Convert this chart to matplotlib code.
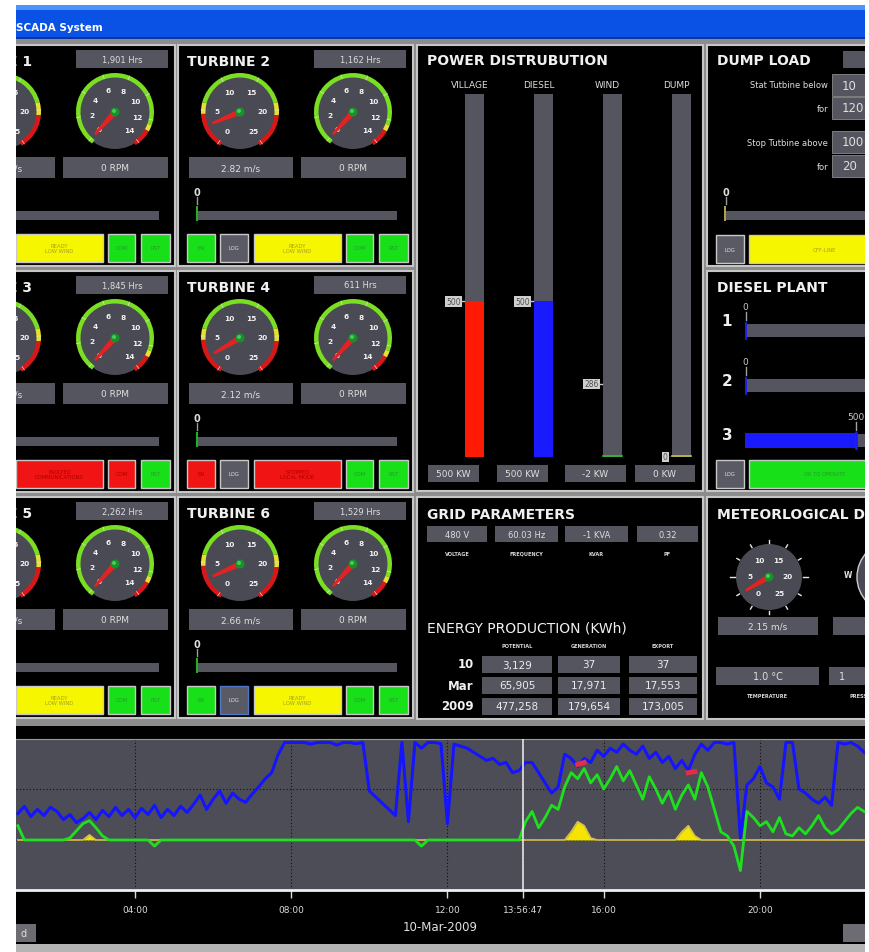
import matplotlib
matplotlib.use('Agg')
import matplotlib.pyplot as plt
from matplotlib.patches import Rectangle, Circle, Wedge, Polygon
import numpy as np
import pandas as pd

W, H = 870, 953

# ---------------- data ----------------
turbine_names = ['TURBINE 1', 'TURBINE 2', 'TURBINE 3', 'TURBINE 4', 'TURBINE 5', 'TURBINE 6']
turbine_hours = ['1,901 Hrs', '1,162 Hrs', '1,845 Hrs', '611 Hrs', '2,262 Hrs', '1,529 Hrs']
turbine_wind = [2.41, 2.82, 2.37, 2.12, 2.55, 2.66]   # m/s
turbine_rpm = [0, 0, 0, 0, 0, 0]
turbine_kw = [0, 0, 0, 0, 0, 0]
turbine_status = ['READY\nLOW WIND', 'READY\nLOW WIND', 'FAULTED\nCOMMUNICATIONS',
                  'STOPPED\nLOCAL MODE', 'READY\nLOW WIND', 'READY\nLOW WIND']
turbine_fault = [False, False, True, True, False, False]
turbine_en = [True, True, True, False, True, True]
turbine_com = [True, True, False, True, True, True]

pd_labels = ['VILLAGE', 'DIESEL', 'WIND', 'DUMP']
pd_kw = [500, 500, -2, 0]
pd_mark = [500, 500, 286, 0]
pd_full = [1165, 1165, 1420, 1165]

dump_rows = ['Stat Tutbine below', 'for', 'Stop Tutbine above', 'for']
dump_vals = ['10', '120', '100', '20']
dump_kw = 0

diesel_units = ['1', '2', '3']
diesel_kw = [0, 0, 500]

grid_labels = ['VOLTAGE', 'FREQUENCY', 'KVAR', 'PF']
grid_vals = ['480 V', '60.03 Hz', '-1 KVA', '0.32']

energy_rows = ['10', 'Mar', '2009']
energy_cols = ['POTENTIAL', 'GENERATION', 'EXPORT']
energy_potential = [3129, 65905, 477258]
energy_generation = [37, 17971, 179654]
energy_export = [37, 17553, 173005]

met_wind = 2.15
met_temp = '1.0 °C'

# trend, 10 minute samples from 01:00 to 22:40 (kW), one row per hour
trend_blue = [
    130, 165, 115, 150, 120, 160,   # 01
    140, 100, 125, 85, 105, 135,    # 02
    100, 145, 115, 160, 120, 150,   # 03
    110, 155, 125, 170, 110, 150,   # 04
    120, 165, 135, 175, 220, 150,   # 05
    200, 240, 180, 230, 200, 185,   # 06
    225, 260, 300, 330, 420, 478,   # 07
    478, 478, 478, 470, 478, 478,   # 08
    478, 465, 478, 478, 472, 478,   # 09
    240, 210, 180, 150, 120, 478,   # 10
    90, 478, 450, 478, 478, 472,    # 11
    80, 470, 460, 450, 430, 410,    # 12
    390, 400, 370, 380, 330, 340,   # 13
    380, 380, 330, 280, 230, 260,   # 14
    420, 400, 360, 400, 380, 440,   # 15
    410, 450, 430, 470, 440, 420,   # 16
    460, 400, 430, 380, 410, 350,   # 17
    390, 340, 420, 470, 440, 478,   # 18
    478, 470, 478, 10, 270, 300,    # 19
    360, 280, 260, 200, 478, 478,   # 20
    250, 230, 200, 180, 210, 170,   # 21
    478, 470, 478, 460, 430]        # 22
trend_green = [
    70, 0, 0, 0, 0, 0,
    0, 0, 10, 45, 80, 95,
    60, 20, 0, 0, 0, 0,
    0, 0, 0, -30, 0, 0,
    0, 0, 0, 0, 0, 0,
    0, 0, 0, 0, 0, 0,
    0, 0, 0, 0, 0, 0,
    0, 0, 0, 0, 0, 0,
    0, 0, 0, 0, 0, 0,
    0, 0, 0, 0, 0, 0,
    0, 0, -30, 0, 0, 0,
    0, 0, 0, 0, 0, 0,
    0, 0, 0, 0, 0, 0,
    90, 140, 60, 110, 170, 150,
    260, 330, 300, 350, 280, 320,
    250, 300, 360, 290, 340, 270,
    200, 310, 250, 180, 240, 150,
    220, 270, 200, 330, 260, 150,
    40, 20, -30, -150, 140, 110,
    70, 90, 40, 110, 30, 20,
    60, 30, 70, 120, 60, 30,
    50, 90, 130, 160, 140]
trend_yellow = [
    0, 0, 0, 0, 0, 0,
    0, 0, 0, 0, 0, 25,
    0, 0, 0, 0, 0, 0,
    0, 0, 0, 0, 0, 0,
    0, 0, 0, 0, 0, 0,
    0, 0, 0, 0, 0, 0,
    0, 0, 0, 0, 0, 0,
    0, 0, 0, 0, 0, 0,
    0, 0, 0, 0, 0, 0,
    0, 0, 0, 0, 0, 0,
    0, 0, 0, 0, 0, 0,
    0, 0, 0, 0, 0, 0,
    0, 0, 0, 0, 0, 0,
    0, 0, 0, 0, 0, 0,
    0, 40, 90, 70, 10, 0,
    0, 0, 0, 0, 0, 0,
    0, 0, 0, 0, 0, 0,
    40, 70, 20, 0, 0, 0,
    0, 0, 0, 0, 0, 0,
    0, 0, 0, 0, 0, 0,
    0, 0, 0, 0, 0, 0,
    0, 0, 0, 0, 0]
trend_red = [np.nan] * len(trend_blue)
trend_red[86], trend_red[87] = 370, 380      # 15:20, 15:30
trend_red[103], trend_red[104] = 330, 335    # 18:10, 18:20
now = pd.Timestamp('2009-03-10 13:56:47')

# ---------------- colours ----------------
BOX = '#55555f'
TXT = '#dedede'
GREEN = '#18e018'
RED = '#f01414'
YELLOW = '#f6f600'
DIAL = '#4a4a54'

fig = plt.figure(figsize=(W / 100, H / 100), dpi=100)
ax = fig.add_axes([0, 0, 1, 1])
ax.set_xlim(0, W)
ax.set_ylim(0, H)
ax.axis('off')


def rect(x, y, w, h, fc, ec='none', lw=0, z=1):
    ax.add_patch(Rectangle((x, H - y - h), w, h, facecolor=fc, edgecolor=ec, linewidth=lw, zorder=z))


def txt(x, y, s, size=7, color=TXT, ha='left', weight='normal', z=6, **kw):
    ax.text(x, H - y, s, fontsize=size, color=color, ha=ha, va='center', fontweight=weight,
            zorder=z, **kw)


def box(x, y, w, h, s, size=6.5, fc=BOX, color=TXT):
    rect(x, y, w, h, fc, z=2)
    txt(x + w / 2, y + h / 2, s, size, color, ha='center')


def button(x, y, w, h, s, fc, ec='#c8c8c8', color='#2a9a2a', size=3.8):
    rect(x, y, w, h, fc, ec=ec, lw=1.0, z=2)
    txt(x + w / 2, y + h / 2, s, size, color, ha='center', linespacing=1.1)


def panel(x, y, w, h):
    rect(x, y, w, h, 'black', ec='#c6c6c6', lw=1.5, z=1)


def sub_axes(x, y, w, h):
    a = fig.add_axes([x / W, 1 - (y + h) / H, w / W, h / H])
    a.set_facecolor('none')
    return a


WIND = dict(a0=235, step=11.6, labels=[0, 5, 10, 15, 20, 25],
            segs=[(-0.4, 4.5, '#d81818'), (4.5, 6.0, '#e6e030'), (6.0, 19.0, '#7ade22'),
                  (19.0, 20.7, '#e6e030'), (20.7, 25.4, '#d81818')])
RPM = dict(a0=228, step=20, labels=[0, 2, 4, 6, 8, 10, 12, 14],
           segs=[(-0.3, 12.4, '#7ade22'), (12.4, 12.9, '#e6e030'), (12.9, 14.3, '#d81818')])


def gauge(cx, cy, value, sc, r=37, ring=True, lab_r=23, nl=30):
    Y = H - cy
    ax.add_patch(Circle((cx, Y), r, fc=DIAL, ec='none', zorder=2))
    ang = lambda v: sc['a0'] - v * sc['step']
    if ring:
        for v0, v1, col in sc['segs']:
            ax.add_patch(Wedge((cx, Y), r + 2, ang(v1), ang(v0), width=4.5, fc=col, ec='none', zorder=3))
        for lab in sc['labels']:
            a = np.radians(ang(lab))
            ax.plot([cx + (r - 2) * np.cos(a), cx + (r + 2) * np.cos(a)],
                    [Y + (r - 2) * np.sin(a), Y + (r + 2) * np.sin(a)], color='#e0e0e0', lw=0.5, zorder=3)
    else:
        for a_deg in range(0, 360, 30):
            a = np.radians(a_deg)
            ln = 5 if a_deg in (0, 180) else 3
            ax.plot([cx + (r + 1) * np.cos(a), cx + (r + 1 + ln) * np.cos(a)],
                    [Y + (r + 1) * np.sin(a), Y + (r + 1 + ln) * np.sin(a)], color='#e8e8e8', lw=1, zorder=3)
    for lab in sc['labels']:
        a = np.radians(ang(lab))
        ax.text(cx + lab_r * np.cos(a), Y + lab_r * np.sin(a), str(lab), fontsize=5.3, color='#f2f2f2',
                ha='center', va='center', fontweight='bold', zorder=4)
    a = np.radians(ang(value))
    ux, uy = np.cos(a), np.sin(a)
    px, py = -uy, ux
    pts = [(cx + nl * ux + 1.3 * px, Y + nl * uy + 1.3 * py), (cx + nl * ux - 1.3 * px, Y + nl * uy - 1.3 * py),
           (cx - 3 * px, Y - 3 * py), (cx + 3 * px, Y + 3 * py)]
    ax.add_patch(Polygon(pts, closed=True, fc='#e42222', ec='none', zorder=5))
    ax.add_patch(Circle((cx, Y), 4.5, fc='#16922a', ec='none', zorder=6))
    ax.add_patch(Circle((cx - 1, Y + 1), 2, fc='#4cc85c', ec='none', zorder=6))


# ---------------- frame ----------------
rect(16, 6, 849, 36, '#8c8c8c', z=0)
rect(16, 40, 849, 690, '#8c8c8c', z=0)
rect(16, 6, 849, 34, '#0a52e6', z=1)
rect(16, 6, 849, 5, '#4f94f8', z=1)
rect(16, 38, 849, 2, '#0736a0', z=1)
txt(16, 28, 'SCADA System', 7.5, 'white', weight='bold')

# ---------------- turbines ----------------
for i in range(6):
    x0 = [-60, 178][i % 2]
    y0 = [46, 272, 498][i // 2]
    panel(x0, y0, 235, 221)
    txt(x0 + 9, y0 + 16, turbine_names[i], 10, '#f0f0f0', weight='bold')
    box(x0 + 136, y0 + 5, 92, 18, turbine_hours[i], 6)
    gauge(x0 + 62, y0 + 67, turbine_wind[i], WIND)
    gauge(x0 + 175, y0 + 67, turbine_rpm[i], RPM)
    box(x0 + 11, y0 + 112, 104, 21, f'{turbine_wind[i]:.2f} m/s', 6.5)
    box(x0 + 123, y0 + 112, 105, 21, f'{turbine_rpm[i]} RPM', 6.5)
    txt(x0 + 19, y0 + 147, str(turbine_kw[i]), 7, ha='center', weight='bold')
    ax.plot([x0 + 19, x0 + 19], [H - y0 - 152, H - y0 - 159], color='#9a9a9a', lw=1, zorder=3)
    rect(x0 + 19, y0 + 166, 200, 9, BOX, z=2)
    rect(x0 + 18, y0 + 161, 2, 15, '#20b020', z=3)
    by = y0 + 189
    button(x0 + 9, by, 28, 28, 'EN', GREEN if turbine_en[i] else RED,
           color='#2a9a2a' if turbine_en[i] else '#b00000')
    button(x0 + 42, by, 28, 28, 'LOG', '#5a5a64', ec='#5078c8' if i == 5 else '#c8c8c8', color='#e0e0e0')
    if turbine_fault[i]:
        button(x0 + 76, by, 87, 28, turbine_status[i], RED, color='#b00000')
    else:
        button(x0 + 76, by, 87, 28, turbine_status[i], YELLOW, color='#a8a020')
    button(x0 + 168, by, 27, 28, 'COM', GREEN if turbine_com[i] else RED,
           color='#2a9a2a' if turbine_com[i] else '#b00000')
    button(x0 + 201, by, 29, 28, 'RST', GREEN)

# ---------------- power distribution ----------------
panel(417, 46, 286, 446)
txt(427, 61, 'POWER DISTRUBUTION', 10, '#f0f0f0', weight='bold')
ax_pd = sub_axes(440, 95, 276, 363)
ax_pd.set_xlim(-0.5, 3.5)
ax_pd.set_ylim(0, 1)
ax_pd.axis('off')
frac = [v / f for v, f in zip(pd_kw, pd_full)]
ax_pd.bar(range(4), [1] * 4, width=0.275, color=BOX, zorder=1)
ax_pd.bar(range(4), [max(f, 0) for f in frac], width=0.275,
          color=['#ff1a06', '#1a1aff', '#20c020', '#c8c040'], zorder=2)
for i, lab in enumerate(pd_labels):
    ax_pd.text(i - 0.07, 1.025, lab, ha='center', va='center', fontsize=6.5, color=TXT, clip_on=False)
    m = pd_mark[i] / pd_full[i]
    ax_pd.text(i - 0.2, m, str(pd_mark[i]), ha='right', va='center', fontsize=5.5, color='#505050',
               bbox=dict(fc='#cfcfcf', ec='none', pad=0.6), zorder=3)
    ax_pd.plot([i - 0.19, i - 0.15], [m, m], color='#c8c8c8', lw=1, zorder=3)
ax_pd.plot([1.86, 2.14], [0.003, 0.003], color='#30c030', lw=1.2, zorder=3)
ax_pd.plot([2.86, 3.14], [0.003, 0.003], color='#c8c040', lw=1.2, zorder=3)
for x, w, v in zip([428, 497, 565, 635], [51, 51, 61, 60], pd_kw):
    box(x, 466, w, 17, f'{v} KW', 6.5)

# ---------------- dump load ----------------
panel(707, 46, 200, 221)
txt(717, 61, 'DUMP LOAD', 10, '#f0f0f0', weight='bold')
rect(843, 52, 40, 17, BOX, z=2)
for (label, val, y) in zip(dump_rows, dump_vals, [86, 109, 143, 167]):
    txt(828, y, label, 6, ha='right')
    rect(832, y - 11, 60, 22, BOX, ec='#8a8a8a', lw=0.6, z=2)
    txt(842, y, val, 8.5, TXT)
txt(726, 193, str(dump_kw), 7, ha='center', weight='bold')
ax.plot([726, 726], [H - 198, H - 205], color='#9a9a9a', lw=1, zorder=3)
rect(725, 212, 160, 9, BOX, z=2)
rect(724, 207, 2, 15, '#b0a040', z=3)
button(716, 236, 28, 28, 'LOG', '#5a5a64', color='#e0e0e0')
button(749, 236, 150, 28, 'OFF-LINE', YELLOW, color='#a8a020')

# ---------------- diesel plant ----------------
panel(707, 272, 200, 220)
txt(717, 288, 'DIESEL PLANT', 10, '#f0f0f0', weight='bold')
for lab, y in zip(diesel_units, [322, 381, 436]):
    txt(727, y, lab, 11, '#f0f0f0', ha='center', weight='bold')
ax_d = sub_axes(745, 304, 120, 165)
ax_d.set_xlim(0, 545)
ax_d.set_ylim(2.5, -0.5)
ax_d.axis('off')
ax_d.barh(range(3), [1000] * 3, height=0.24, color=BOX, zorder=1)
ax_d.barh(range(3), diesel_kw, height=0.28, color='#1a1aff', zorder=2)
for i, v in enumerate(diesel_kw):
    ax_d.plot([v + 2, v + 2], [i - 0.14, i + 0.14], color='#1a1aff', lw=2, zorder=3)
    ax_d.text(v + 3, i - 0.43, str(v), ha='center', va='center', fontsize=6.5, color='#c8c8c8', zorder=3)
    ax_d.plot([v + 3, v + 3], [i - 0.33, i - 0.2], color='#a0a0a0', lw=1, zorder=3)
button(716, 461, 28, 28, 'LOG', '#5a5a64', color='#e0e0e0')
button(749, 461, 152, 28, 'OK TO OPERATE', GREEN)

# ---------------- grid parameters / energy ----------------
panel(417, 498, 286, 222)
txt(427, 515, 'GRID PARAMETERS', 10, '#f0f0f0', weight='bold')
for x, w, v, lab in zip([427, 495, 565, 637], [60, 63, 63, 61], grid_vals, grid_labels):
    box(x, 527, w, 16, v, 6)
    txt(x + w / 2, 554, lab, 3.6, '#d8d8d8', ha='center', weight='bold')
txt(427, 628, 'ENERGY PRODUCTION (KWh)', 10, '#f0f0f0')
cell_x = [482, 558, 629]
cell_w = [70, 62, 68]
for j, col in enumerate(energy_cols):
    txt(cell_x[j] + cell_w[j] / 2, 646, col, 3.6, '#d8d8d8', ha='center', weight='bold')
for r, (lab, y) in enumerate(zip(energy_rows, [657, 678, 699])):
    txt(474, y + 8, lab, 8.5, '#f0f0f0', ha='right', weight='bold')
    for j, vals in enumerate([energy_potential, energy_generation, energy_export]):
        box(cell_x[j], y, cell_w[j], 17, f'{vals[r]:,}', 7.5, color='#ececec')

# ---------------- meteorological ----------------
panel(707, 498, 200, 222)
txt(717, 515, 'METEORLOGICAL DATA', 10, '#f0f0f0', weight='bold')
gauge(769, 578, met_wind, WIND, r=33, ring=False, lab_r=19, nl=27)
ax.add_patch(Circle((893, H - 578), 36, fc=DIAL, ec='#d0d0d0', lw=1, zorder=2))
txt(848, 576, 'W', 5.5, '#e0e0e0', ha='center', weight='bold')
box(718, 618, 100, 18, f'{met_wind:.2f} m/s', 6.5)
rect(833, 618, 50, 18, BOX, z=2)
box(716, 668, 103, 18, met_temp, 7)
rect(829, 668, 50, 18, BOX, z=2)
txt(839, 677, '1', 7)
txt(767, 696, 'TEMPERATURE', 3.6, '#d8d8d8', ha='center', weight='bold')
txt(864, 696, 'PRESSURE', 3.6, '#d8d8d8', ha='center', weight='bold')

# ---------------- trend ----------------
rect(16, 727, 849, 218, 'black', z=1)
rect(16, 945, 849, 8, '#b4b4b4', z=1)
rect(16, 925, 20, 18, '#6c6c72', z=2)
txt(21, 934, 'd', 7, '#e0e0e0')
rect(843, 925, 30, 18, '#6c6c72', z=2)

ax_t = sub_axes(16, 740, 849, 151)
ax_t.set_facecolor('#4d4d57')
times = pd.date_range('2009-03-10 01:00', periods=len(trend_blue), freq='10min')
ax_t.fill_between(times, 0, trend_yellow, color='#f5e400', lw=0, zorder=2)
ax_t.plot(times, trend_yellow, color='#d6c050', lw=1.2, zorder=2)
ax_t.plot(times, trend_green, color='#1ee01e', lw=2.0, zorder=3)
ax_t.plot(times, trend_blue, color='#1414ff', lw=2.2, zorder=4)
ax_t.plot(times, trend_red, color='#e03048', lw=3.5, zorder=5)
ax_t.axvline(now, color='#e8e8e8', lw=1.2, zorder=6)
ax_t.set_xlim(pd.Timestamp('2009-03-10 00:57:10'), pd.Timestamp('2009-03-10 22:41:24'))
ax_t.set_ylim(-245, 495)
ticks = [pd.Timestamp(f'2009-03-10 {h:02d}:00') for h in (4, 8, 12, 16, 20)] + [now]
ax_t.set_xticks(ticks)
ax_t.set_xticklabels(['04:00', '08:00', '12:00', '16:00', '20:00', now.strftime('%H:%M:%S')])
ax_t.get_xticklabels()[-1].set_color('#e8e060')
ax_t.tick_params(axis='x', colors='#dcdcdc', labelsize=6.5, length=6, width=1, pad=5)
ax_t.set_yticks([0, 250])
ax_t.tick_params(axis='y', left=False, labelleft=False)
ax_t.grid(True, linestyle=(0, (1, 2)), color='#101010', lw=0.8)
for s in ('left', 'right'):
    ax_t.spines[s].set_visible(False)
ax_t.spines['bottom'].set_color('#eeeeee')
ax_t.spines['bottom'].set_linewidth(2)
ax_t.spines['top'].set_color('#9a9a9a')
ax_t.set_xlabel('10-Mar-2009', color='#e0e0e0', fontsize=8.5, labelpad=4)

# white page margins
for (x, y, w, h) in [(0, 0, 16, H), (865, 0, 5, H), (0, 0, W, 6)]:
    fig.add_artist(Rectangle((x / W, 1 - (y + h) / H), w / W, h / H, transform=fig.transFigure,
                             fc='white', ec='none', zorder=10))

fig.savefig('out.png', dpi=100, facecolor='white')
